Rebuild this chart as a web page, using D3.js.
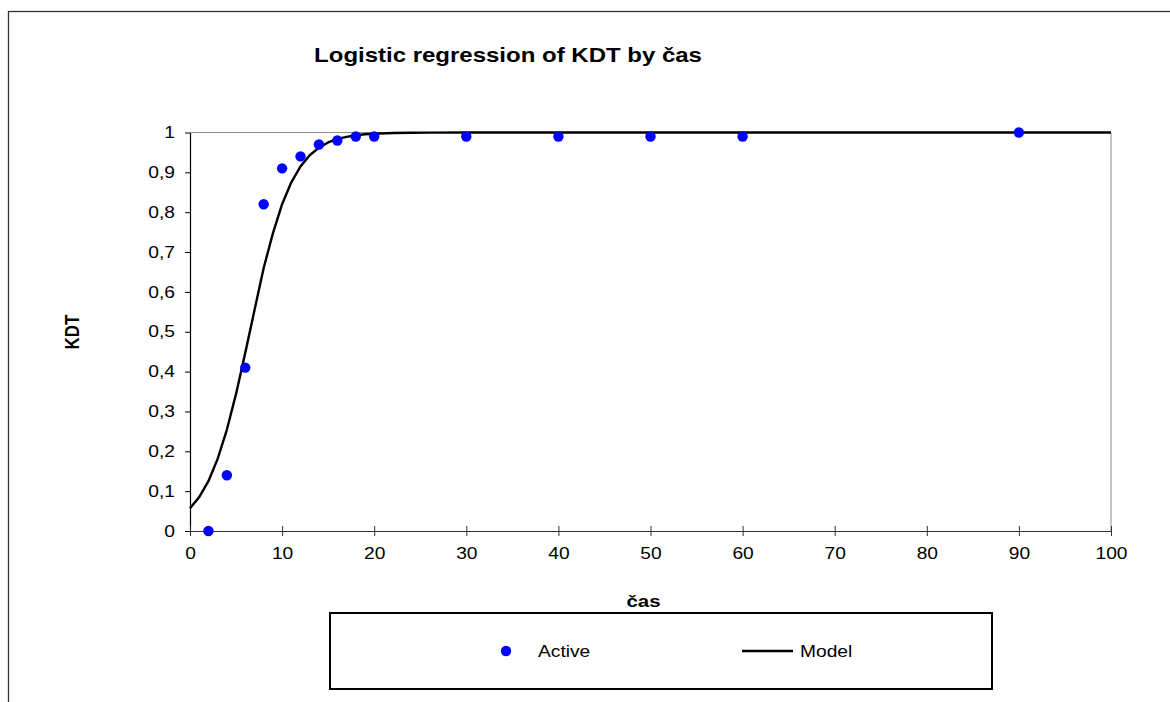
<!DOCTYPE html>
<html>
<head>
<meta charset="utf-8">
<script src="https://cdn.jsdelivr.net/npm/d3@7"></script>
<style>
  html, body { margin: 0; padding: 0; background: #fff; }
  svg { display: block; font-family: "Liberation Sans", Arial, sans-serif; }
</style>
</head>
<body>
<div id="chart"></div>
<script>
// Données
const activeX = [2, 4, 6, 8, 10, 12, 14, 16, 18, 20, 30, 40, 50, 60, 90];
const activeY = [0, 0.14, 0.41, 0.82, 0.91, 0.94, 0.97, 0.98, 0.99, 0.99, 0.99, 0.99, 0.99, 0.99, 1];

const modelX = [0, 1, 2, 3, 4, 5, 6, 7, 8, 9, 10, 11, 12, 13, 14, 15, 16, 17, 18, 19, 20, 22, 24, 26, 30, 40, 50, 60, 70, 80, 90, 100];
const modelY = [0.057, 0.085, 0.125, 0.181, 0.254, 0.344, 0.447, 0.554, 0.66, 0.747, 0.82, 0.875, 0.915, 0.943, 0.962,
                0.975, 0.984, 0.989, 0.993, 0.9955, 0.997, 0.9988, 0.9995, 0.9998, 1, 1, 1, 1, 1, 1, 1, 1];

const xTicks = [0, 10, 20, 30, 40, 50, 60, 70, 80, 90, 100];
const yTicks = [0, 0.1, 0.2, 0.3, 0.4, 0.5, 0.6, 0.7, 0.8, 0.9, 1];

const W = 1170, H = 702;
const SX = 1.2; // texte étiré horizontalement comme sur l'original

const svg = d3.select("#chart").append("svg")
    .attr("width", W)
    .attr("height", H);

// cadre extérieur (coupé à droite et en bas)
svg.append("rect")
    .attr("x", 8.5).attr("y", 11.5)
    .attr("width", 1300).attr("height", 900)
    .attr("fill", "none")
    .attr("stroke", "#333")
    .attr("stroke-width", 1.3);

const x = d3.scaleLinear().domain([0, 100]).range([190, 1111]);
const y = d3.scaleLinear().domain([0, 1]).range([531, 132.5]);

function stretchedText(parent, tx, ty, txt, opts) {
    const g = parent.append("g").attr("transform", `translate(${tx},${ty}) ${opts.rotate ? "rotate(-90)" : ""}`);
    const t = g.append("text")
        .attr("transform", opts.rotate ? `scale(1,${SX})` : `scale(${SX},1)`)
        .attr("text-anchor", opts.anchor || "middle")
        .attr("font-size", opts.size)
        .attr("font-weight", opts.bold ? "bold" : "normal")
        .attr("fill", "#000")
        .text(txt);
    if (opts.dy) t.attr("dy", opts.dy);
    return g;
}

// titre
stretchedText(svg, 508, 62, "Logistic regression of KDT by čas", { size: 20, bold: true });

// bords du tracé (haut et droite en gris)
svg.append("line").attr("x1", x(0)).attr("x2", x(100)).attr("y1", y(1)).attr("y2", y(1))
    .attr("stroke", "#8c8c8c").attr("stroke-width", 1);
svg.append("line").attr("x1", x(100)).attr("x2", x(100)).attr("y1", y(1)).attr("y2", y(0))
    .attr("stroke", "#8c8c8c").attr("stroke-width", 1);

// axe Y
const yAxis = svg.append("g")
    .attr("transform", `translate(${x(0)},0)`)
    .call(d3.axisLeft(y).tickValues(yTicks).tickSizeInner(5).tickSizeOuter(0).tickPadding(7.5)
        .tickFormat(d => (d === 0 || d === 1) ? String(d) : d.toFixed(1).replace(".", ",")));
yAxis.select(".domain").attr("stroke", "#000").attr("stroke-width", 1.2);
yAxis.selectAll(".tick line").attr("stroke", "#000");
yAxis.selectAll(".tick text")
    .attr("font-size", 16)
    .attr("font-family", "Liberation Sans, Arial, sans-serif")
    .attr("fill", "#000")
    .attr("transform", `scale(${SX},1)`);

// axe X
const xAxis = svg.append("g")
    .attr("transform", `translate(0,${y(0)})`)
    .call(d3.axisBottom(x).tickValues(xTicks).tickSizeInner(5).tickSizeOuter(0).tickPadding(12));
xAxis.select(".domain").attr("stroke", "#333").attr("stroke-width", 1.2);
xAxis.selectAll(".tick line").attr("stroke", "#333").attr("y1", -5).attr("y2", 5);
xAxis.selectAll(".tick text")
    .attr("font-size", 16)
    .attr("font-family", "Liberation Sans, Arial, sans-serif")
    .attr("fill", "#000")
    .attr("transform", `scale(${SX},1)`);

// titres des axes
stretchedText(svg, 643.5, 607, "čas", { size: 17, bold: true });
stretchedText(svg, 79, 332, "KDT", { size: 17, bold: true, rotate: true });

// courbe du modèle
const modelData = modelX.map((v, i) => [v, modelY[i]]);
svg.append("path")
    .datum(modelData)
    .attr("fill", "none")
    .attr("stroke", "#000")
    .attr("stroke-width", 2.4)
    .attr("stroke-linejoin", "round")
    .attr("d", d3.line().x(d => x(d[0])).y(d => y(d[1])));

// points observés
const activeData = activeX.map((v, i) => [v, activeY[i]]);
svg.append("g").selectAll("circle")
    .data(activeData)
    .join("circle")
    .attr("cx", d => x(d[0]))
    .attr("cy", d => y(d[1]))
    .attr("r", 5.2)
    .attr("fill", "#0000ff");

// légende
const legend = svg.append("g");
legend.append("rect")
    .attr("x", 330).attr("y", 613)
    .attr("width", 662).attr("height", 76)
    .attr("fill", "#fff")
    .attr("stroke", "#000")
    .attr("stroke-width", 2);
legend.append("circle").attr("cx", 506).attr("cy", 651).attr("r", 5.2).attr("fill", "#0000ff");
stretchedText(legend, 538, 657, "Active", { size: 16, anchor: "start" });
legend.append("line").attr("x1", 742).attr("x2", 793).attr("y1", 651).attr("y2", 651)
    .attr("stroke", "#000").attr("stroke-width", 2.4);
stretchedText(legend, 800, 657, "Model", { size: 16, anchor: "start" });
</script>
</body>
</html>
